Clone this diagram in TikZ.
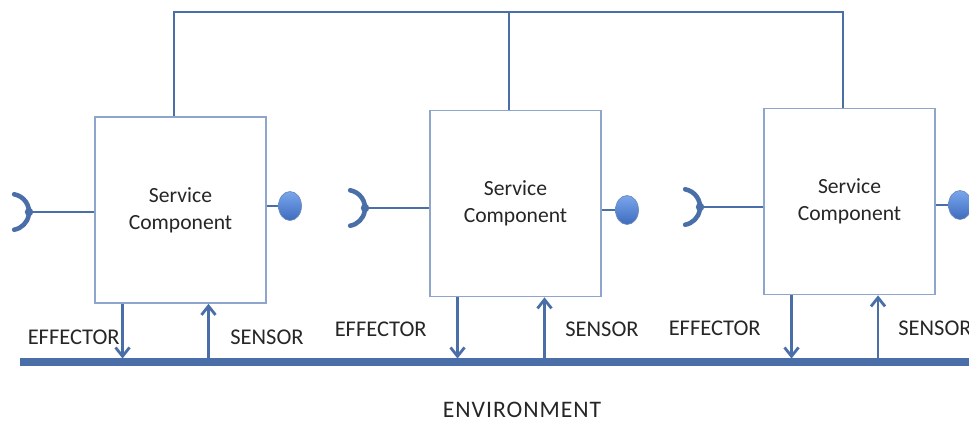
\documentclass[tikz,border=0pt]{standalone}
\usepackage{fontspec}
\setmainfont{Carlito}
\usepackage{tikz}
\usetikzlibrary{shapes.geometric, arrows.meta, calc}

\definecolor{wireblue}{HTML}{4A6EA8}
\definecolor{boxblue}{HTML}{8EA6CC}
\definecolor{ballhi}{HTML}{7AA6EC}
\definecolor{balllo}{HTML}{3E6CBE}

\begin{document}
\begin{tikzpicture}[
    x=0.02cm, y=-0.02cm,
    every node/.style={font=\fontsize{12.3}{15.3}\selectfont, text=black!85},
    comp/.style={rectangle, draw=boxblue, line width=1pt, align=center,
                 minimum width=3.42cm, minimum height=3.72cm, fill=white},
    wire/.style={draw=wireblue, line width=1.5pt},
    envline/.style={draw=wireblue, line width=4pt},
    arr/.style={-{Straight Barb[length=5pt, width=8pt]}, draw=wireblue, line width=1.6pt},
    ball/.style={ellipse, draw=wireblue!80, top color=ballhi, bottom color=balllo,
                 minimum width=0.46cm, minimum height=0.58cm, inner sep=0pt},
    sock/.style={draw=wireblue, line width=2.6pt, line cap=round},
    lbl/.style={inner sep=0pt, font=\fontsize{12.8}{15.3}\selectfont}
]
\useasboundingbox (0,0) rectangle (969,424);

% components
\node[comp] (b1) at (180.5,210)   {Service\\Component};
\node[comp] (b2) at (515.5,203.5) {Service\\Component};
\node[comp] (b3) at (849.5,201.5) {Service\\Component};

% shared bus on top
\coordinate (bus) at (510,12);
\coordinate (t1) at ([xshift=-0.13cm]b1.north);
\coordinate (t2) at ([xshift=-0.13cm]b2.north);
\coordinate (t3) at ([xshift=-0.13cm]b3.north);
\draw[wire] (t1) |- (t3 |- bus) -- (t3);
\draw[wire] (t2) -- (t2 |- bus);

% provided interfaces
\node[ball] (p1) at (290,206) {};
\node[ball] (p2) at (627,210) {};
\node[ball] (p3) at (960,205) {};
\draw[wire] (b1.east |- p1) -- (p1);
\draw[wire] (b2.east |- p2) -- (p2);
\draw[wire] (b3.east |- p3) -- (p3);

% required interfaces
\coordinate (r1) at (29,212);
\coordinate (r2) at (365,208);
\coordinate (r3) at (700,207);
\draw[wire] (r1) -- (r1 -| b1.west);
\draw[wire] (r2) -- (r2 -| b2.west);
\draw[wire] (r3) -- (r3 -| b3.west);
\draw[sock] ($(r1)+(-0.2975cm,0.3545cm)$) arc[start angle=80, end angle=-80, radius=0.36cm];
\draw[sock] ($(r2)+(-0.2975cm,0.3545cm)$) arc[start angle=80, end angle=-80, radius=0.36cm];
\draw[sock] ($(r3)+(-0.2975cm,0.3545cm)$) arc[start angle=80, end angle=-80, radius=0.36cm];
\fill[wireblue] (r1) circle (2.4pt) (r2) circle (2.4pt) (r3) circle (2.4pt);

% environment
\coordinate (envL) at (20,362);
\coordinate (envR) at (969,362);
\draw[envline] (envL) -- (envR);
\node[font=\fontsize{13.5}{15}\selectfont\addfontfeatures{LetterSpace=4}] (env) at (522,410) {ENVIRONMENT};

% effectors and sensors
\coordinate (e1) at ([xshift=-1.16cm]b1.south);
\coordinate (e2) at ([xshift=-1.16cm]b2.south);
\coordinate (e3) at ([xshift=-1.16cm]b3.south);
\coordinate (s1) at ([xshift=0.56cm]b1.south);
\coordinate (s2) at ([xshift=0.58cm]b2.south);
\coordinate (s3) at ([xshift=0.57cm]b3.south);
\draw[arr, shorten >=2pt] (e1) -- (e1 |- envL);
\draw[arr, shorten >=2pt] (e2) -- (e2 |- envL);
\draw[arr, shorten >=2pt] (e3) -- (e3 |- envL);
\draw[arr] (s1 |- envL) -- (s1);
\draw[arr] (s2 |- envL) -- (s2);
\draw[arr] (s3 |- envL) -- (s3);

\node[lbl, anchor=east] (eff1) at (120,337) {EFFECTOR};
\node[lbl, anchor=east] (eff2) at (427,329) {EFFECTOR};
\node[lbl, anchor=east] (eff3) at (761,328) {EFFECTOR};
\node[lbl, anchor=west] (sen1) at (230,337) {SENSOR};
\node[lbl, anchor=west] (sen2) at (565,329) {SENSOR};
\node[lbl, anchor=west] (sen3) at (898,328) {SENSOR};
\end{tikzpicture}
\end{document}
